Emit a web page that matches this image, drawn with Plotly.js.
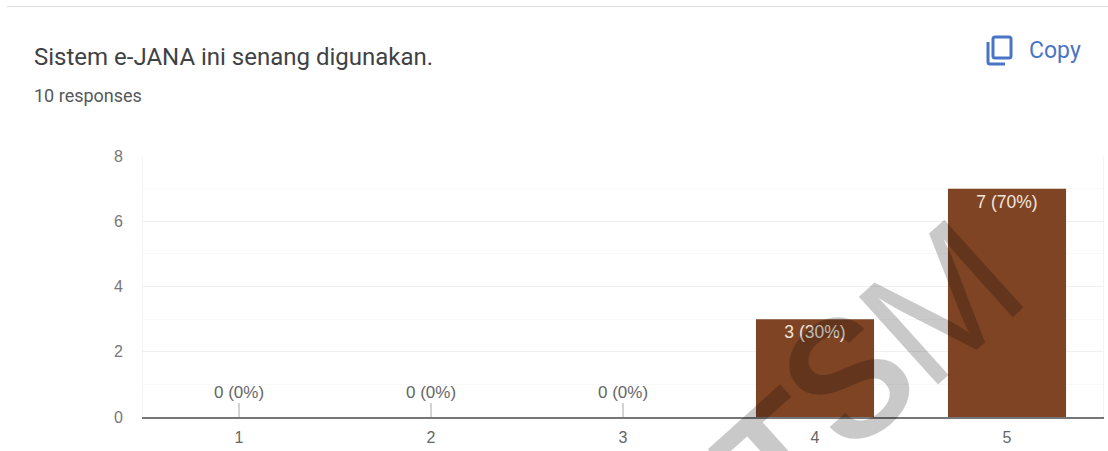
<!DOCTYPE html>
<html>
<head>
<meta charset="utf-8">
<script src="https://cdn.plot.ly/plotly-3.0.1.min.js"></script>
<style>html,body{margin:0;padding:0;background:#fff}#chart{width:1108px;height:451px}</style>
</head>
<body>
<div id="chart"></div>
<script>
const categories = ['1', '2', '3', '4', '5'];
const counts = [0, 0, 0, 3, 7];
const valueLabels = ['0 (0%)', '0 (0%)', '0 (0%)', '3 (30%)', '7 (70%)'];
const yTicks = [0, 2, 4, 6, 8];
const heading = 'Sistem e-JANA ini senang digunakan.';
const responses = '10 responses';

const W = 1108, H = 451;
const M = {l: 143, r: 5, t: 156, b: 34};
// Paper coordinates span the plot area, so page pixels are converted against its box.
const px = x => (x - M.l) / (W - M.l - M.r);
const py = y => (H - M.b - y) / (H - M.t - M.b);
const uiFont = 'Roboto, Arial, sans-serif';
const chartFont = '"Liberation Sans", Arial, sans-serif';
const blue = '#4a74c4';

const pageText = (text, x, y, size, color) => ({
  text, xref: 'paper', yref: 'paper', x: px(x), y: py(y), xanchor: 'left', yanchor: 'middle',
  showarrow: false, font: {family: uiFont, size, color}
});
const stamp = (text, x, y, family, weight) => ({
  text, xref: 'paper', yref: 'paper', x: px(x), y: py(y), xanchor: 'center', yanchor: 'middle',
  showarrow: false, textangle: -42,
  font: {family, size: 172, weight, color: 'rgba(0,0,0,0.21)'}
});

const annotations = [
  pageText(heading, 32, 57, 24, '#3f4245'),
  pageText(responses, 32, 95, 18, '#55585c'),
  pageText('Copy', 1027, 51, 23, blue),
  stamp('T', 786, 464, uiFont, 500),
  stamp('S', 849, 380, uiFont, 500),
  stamp('M', 940, 302, '"Liberation Sans Narrow", "Liberation Sans", sans-serif', 400)
];

// Empty categories get a leader line from the baseline up to their label.
categories.forEach((c, i) => {
  if (counts[i] === 0) {
    annotations.push({
      text: valueLabels[i], x: i, y: counts[i], xref: 'x', yref: 'y',
      showarrow: true, arrowhead: 0, arrowwidth: 1, arrowcolor: '#a8a8a8', ax: 0, ay: -25, standoff: 0,
      font: {family: chartFont, size: 17, color: '#666'}
    });
  }
});

const shapes = [
  {type: 'line', xref: 'paper', yref: 'paper', x0: px(7), x1: px(W), y0: py(6.5), y1: py(6.5), line: {color: '#dcdcdc', width: 1}},
  // copy icon: front sheet and the open corner of the sheet behind it
  {type: 'path', xref: 'paper', yref: 'paper', path: `M ${px(995)} ${py(37)} L ${px(1009)} ${py(37)} Q ${px(1011)} ${py(37)} ${px(1011)} ${py(39)} L ${px(1011)} ${py(56)} Q ${px(1011)} ${py(58)} ${px(1009)} ${py(58)} L ${px(995)} ${py(58)} Q ${px(993)} ${py(58)} ${px(993)} ${py(56)} L ${px(993)} ${py(39)} Q ${px(993)} ${py(37)} ${px(995)} ${py(37)} Z`, line: {color: blue, width: 3}},
  {type: 'path', xref: 'paper', yref: 'paper', path: `M ${px(988)} ${py(42)} L ${px(988)} ${py(62)} Q ${px(988)} ${py(64)} ${px(990)} ${py(64)} L ${px(1005)} ${py(64)}`, line: {color: blue, width: 3}}
];

const trace = {
  type: 'bar',
  x: categories,
  y: counts,
  width: 0.615,
  marker: {color: '#7e4424'},
  text: valueLabels.map((t, i) => counts[i] > 0 ? t : ''),
  textposition: 'inside',
  insidetextanchor: 'end',
  textangle: 0,
  constraintext: 'none',
  insidetextfont: {family: chartFont, size: 17.5, color: '#f1e6df'},
  hoverinfo: 'x+y'
};

const layout = {
  width: W, height: H,
  margin: {l: M.l, r: M.r, t: M.t, b: M.b, pad: 0},
  paper_bgcolor: '#ffffff',
  plot_bgcolor: '#ffffff',
  showlegend: false,
  font: {family: chartFont, color: '#666'},
  annotations, shapes,
  xaxis: {
    type: 'category', range: [-0.5, 4.5], showgrid: false, ticks: '',
    tickfont: {size: 16, color: '#666'}, ticklabelstandoff: 5,
    showline: true, linecolor: '#777', linewidth: 2, zeroline: false, fixedrange: true
  },
  yaxis: {
    range: [0, 8], tickvals: yTicks, ticktext: yTicks.map(String),
    tickfont: {size: 16, color: '#777'},
    gridcolor: '#f0f0f0', gridwidth: 1, zeroline: false, ticks: '', fixedrange: true,
    minor: {dtick: 1, showgrid: true, gridcolor: '#f8f8f8', gridwidth: 1, ticks: ''},
    showline: true, mirror: true, linecolor: '#f3f3f3', linewidth: 1, ticklabelstandoff: 16
  }
};

Plotly.newPlot('chart', [trace], layout, {displayModeBar: false, staticPlot: true});
</script>
</body>
</html>
